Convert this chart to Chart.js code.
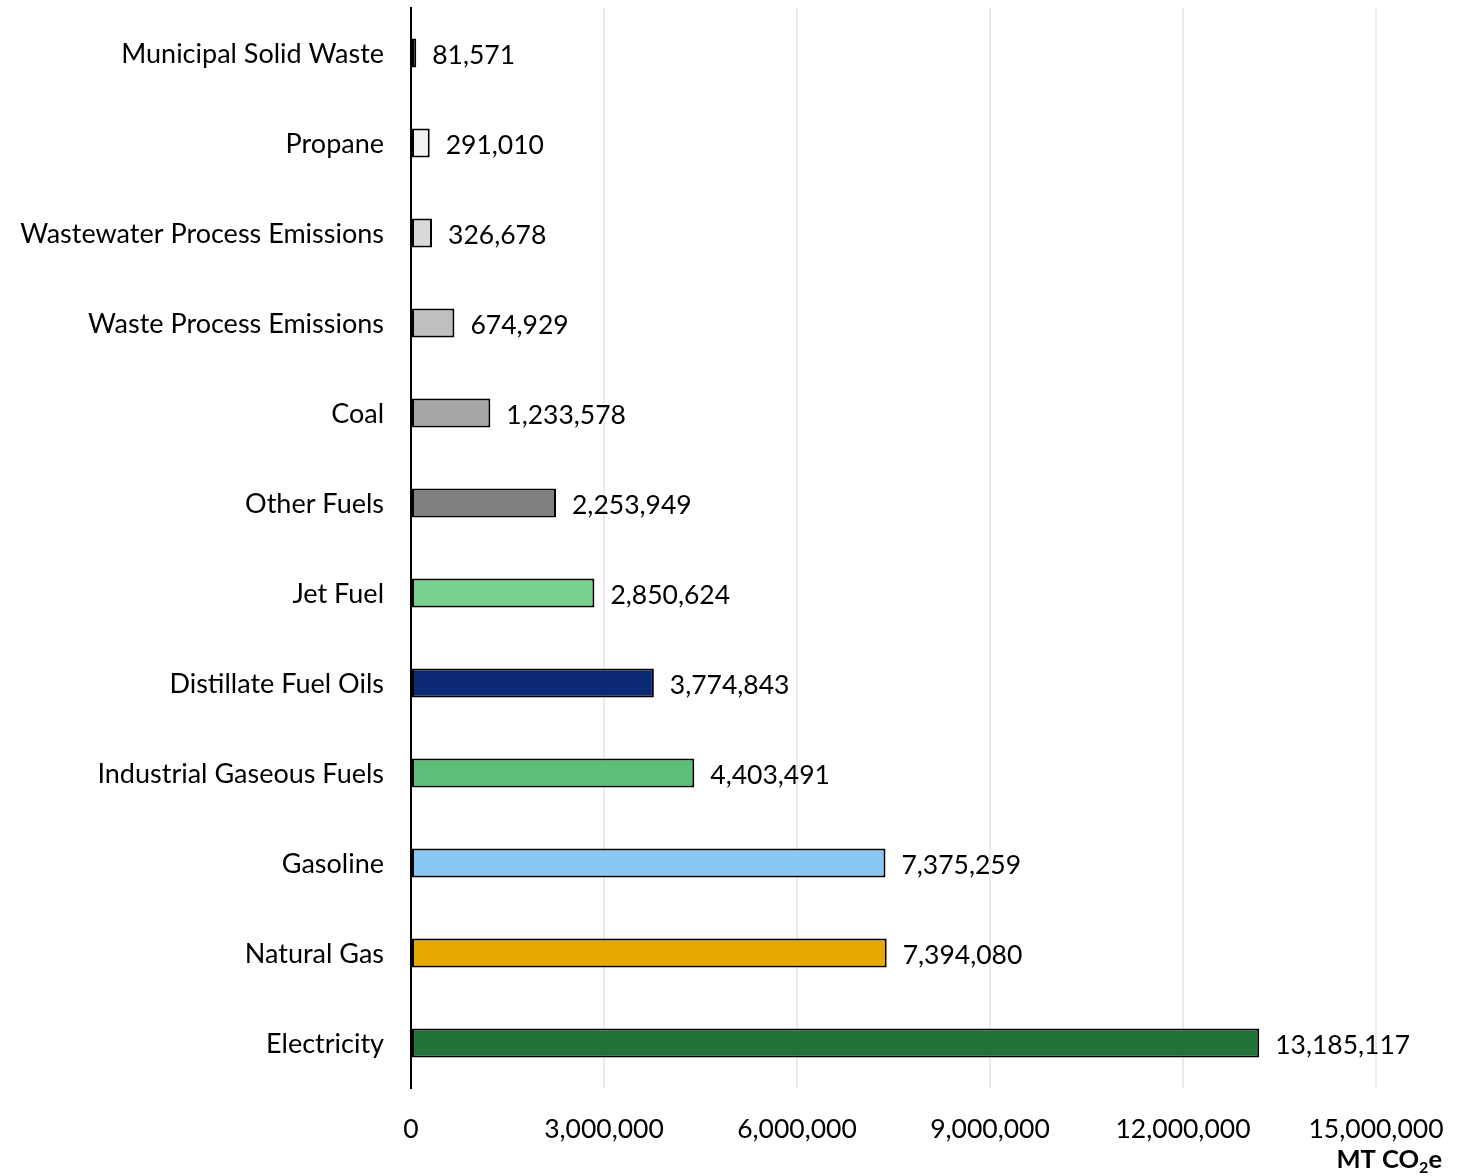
<!DOCTYPE html>
<html>
<head>
<meta charset="utf-8">
<script src="https://cdn.jsdelivr.net/npm/chart.js@4"></script>
<style>
  html, body { margin: 0; padding: 0; background: #ffffff; }
  #wrap { width: 1476px; height: 1176px; position: relative; }
</style>
</head>
<body>
<div id="wrap"><canvas id="c" width="1476" height="1176"></canvas></div>
<script>
// Emission sources, top to bottom
const categories = [
  'Municipal Solid Waste', 'Propane', 'Wastewater Process Emissions',
  'Waste Process Emissions', 'Coal', 'Other Fuels', 'Jet Fuel',
  'Distillate Fuel Oils', 'Industrial Gaseous Fuels', 'Gasoline',
  'Natural Gas', 'Electricity'
];
// Emissions in metric tons CO2e
const emissions = [
  81571, 291010, 326678, 674929, 1233578, 2253949, 2850624,
  3774843, 4403491, 7375259, 7394080, 13185117
];
const barColors = [
  '#4472C4', '#F2F2F2', '#D9D9D9', '#BFBFBF', '#A6A6A6', '#808080',
  '#77D18F', '#0B2A73', '#5EBF7B', '#88C8F2', '#E8A800', '#22733A'
];
const xTicks = [0, 3000000, 6000000, 9000000, 12000000, 15000000];

const FONT = 'Lato, "Open Sans", sans-serif';
const fmt = v => v.toLocaleString('en-US');

// Category names to the left of the axis and values at the end of each bar
const barText = {
  id: 'barText',
  afterDatasetsDraw(chart) {
    const ctx = chart.ctx;
    const meta = chart.getDatasetMeta(0);
    const left = chart.chartArea.left;
    ctx.save();
    ctx.fillStyle = '#000';
    ctx.textBaseline = 'middle';
    meta.data.forEach((bar, i) => {
      ctx.font = '27px ' + FONT;
      ctx.textAlign = 'right';
      ctx.fillText(categories[i], left - 27, bar.y + 1);
      ctx.font = '26.5px ' + FONT;
      ctx.textAlign = 'left';
      ctx.fillText(fmt(emissions[i]), bar.x + 16, bar.y + 2);
    });
    ctx.restore();
  }
};

// Axis unit "MT CO2e" with subscript 2
const unitTitle = {
  id: 'unitTitle',
  afterDraw(chart) {
    const ctx = chart.ctx;
    ctx.save();
    ctx.fillStyle = '#000';
    ctx.textBaseline = 'alphabetic';
    const big = 'bold 25.5px ' + FONT, small = 'bold 16px ' + FONT;
    const parts = [['MT CO', big, 0], ['2', small, 5], ['e', big, 0]];
    let total = 0;
    parts.forEach(p => { ctx.font = p[1]; total += ctx.measureText(p[0]).width; });
    let x = 1442 - total;
    const base = 1168;
    parts.forEach(p => {
      ctx.font = p[1];
      ctx.fillText(p[0], x, base + p[2]);
      x += ctx.measureText(p[0]).width;
    });
    ctx.restore();
  }
};

new Chart(document.getElementById('c'), {
  type: 'bar',
  data: {
    labels: categories,
    datasets: [{
      data: emissions,
      backgroundColor: barColors,
      borderColor: '#000',
      borderWidth: 2,
      borderSkipped: false,
      barPercentage: 0.64,
      categoryPercentage: 0.5
    }]
  },
  options: {
    indexAxis: 'y',
    responsive: false,
    animation: false,
    layout: { padding: { left: 0, right: 100, top: 8, bottom: 0 } },
    plugins: { legend: { display: false }, tooltip: { enabled: false } },
    scales: {
      x: {
        min: 0, max: 15000000,
        afterBuildTicks: s => { s.ticks = xTicks.map(v => ({ value: v })); },
        afterFit: s => { s.height = 88; },
        grid: { color: '#EBEBEB', lineWidth: 2, drawTicks: false },
        border: { display: false },
        ticks: {
          padding: 26,
          color: '#000',
          font: { family: FONT, size: 26.5 },
          callback: v => fmt(v),
          maxRotation: 0
        }
      },
      y: {
        afterFit: s => { s.width = 411; },
        grid: { display: false, drawTicks: false },
        border: { display: true, color: '#000', width: 2 },
        ticks: { display: false }
      }
    }
  },
  plugins: [barText, unitTitle]
});
</script>
</body>
</html>
